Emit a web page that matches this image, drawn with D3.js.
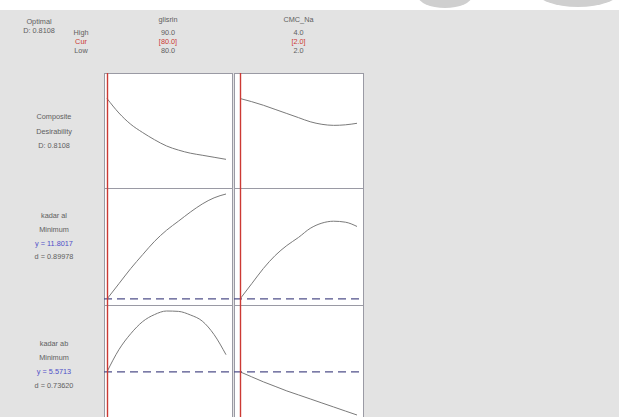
<!DOCTYPE html>
<html><head><meta charset="utf-8">
<script src="https://cdn.jsdelivr.net/npm/d3@7"></script>
<style>html,body{margin:0;padding:0;background:#fff;}svg{display:block;}</style>
</head><body>
<svg id="chart" width="619" height="417"></svg>
<script>
// ---------- data ----------
const factors = ["glisrin", "CMC_Na"];
const factorHighLabels = ["90.0", "4.0"];
const factorCurLabels = ["[80.0]", "[2.0]"];
const factorLowLabels = ["80.0", "2.0"];
const factorLow = [80, 2];
const factorHigh = [90, 4];
const factorCur = [80, 2];
const glisrinX = [80, 81, 82, 83, 84, 85, 86, 87, 88, 89, 90];
const cmcX = [2.0, 2.2, 2.4, 2.6, 2.8, 3.0, 3.2, 3.4, 3.6, 3.8, 4.0];

const rowLabels = [
  ["Composite", "Desirability", "D: 0.8108"],
  ["kadar al", "Minimum", "y = 11.8017", "d = 0.89978"],
  ["kadar ab", "Minimum", "y = 5.5713", "d = 0.73620"]
];
const rowCurrentY = [null, 11.8017, 5.5713];

const desirGlisrin = [0.8108, 0.67, 0.56, 0.48, 0.41, 0.35, 0.31, 0.28, 0.26, 0.24, 0.22];
const desirCMC = [0.8108, 0.78, 0.745, 0.705, 0.665, 0.625, 0.585, 0.56, 0.55, 0.555, 0.57];
const alGlisrin = [11.80, 12.12, 12.44, 12.73, 13.01, 13.24, 13.43, 13.62, 13.79, 13.92, 14.00];
const alCMC = [11.80, 12.12, 12.44, 12.71, 12.92, 13.09, 13.28, 13.39, 13.43, 13.41, 13.32];
const abGlisrin = [5.571, 5.915, 6.164, 6.352, 6.461, 6.516, 6.510, 6.455, 6.360, 6.149, 5.837];
const abCMC = [5.571, 5.493, 5.415, 5.345, 5.274, 5.212, 5.150, 5.087, 5.025, 4.962, 4.900];

// ---------- layout ----------
const svg = d3.select("#chart");
const W = 619, H = 417;
const FONT = "'Liberation Sans', Arial, sans-serif";
const textCol = "#606060", redCol = "#cc3a34", blueCol = "#5050c8";

svg.append("rect").attr("width", W).attr("height", H).attr("fill", "#ffffff");
svg.append("rect").attr("x", 0).attr("y", 10).attr("width", W).attr("height", H - 10).attr("fill", "#e3e3e3");
// faint shapes in top band
svg.append("ellipse").attr("cx", 445).attr("cy", -4).attr("rx", 27).attr("ry", 12).attr("fill", "#cfcfcf");
svg.append("ellipse").attr("cx", 578).attr("cy", -9).attr("rx", 42).attr("ry", 16).attr("fill", "#cfcfcf");

const colX = [[104, 232], [234, 363]];
const colPad = [[3, 6], [6, 6]];
const rowY = [[73, 188], [188, 305], [305, 421]];
const pad = 6;

const xs = factors.map((f, i) => d3.scaleLinear()
  .domain([factorLow[i], factorHigh[i]])
  .range([colX[i][0] + colPad[i][0], colX[i][1] - colPad[i][1]]));

const curves = [
  [glisrinX.map((x, k) => [x, desirGlisrin[k]]), cmcX.map((x, k) => [x, desirCMC[k]])],
  [glisrinX.map((x, k) => [x, alGlisrin[k]]), cmcX.map((x, k) => [x, alCMC[k]])],
  [glisrinX.map((x, k) => [x, abGlisrin[k]]), cmcX.map((x, k) => [x, abCMC[k]])]
];

const ys = curves.map((rc, r) => {
  const dom = r === 0 ? [0, 1] : d3.extent(rc.flat(), d => d[1]);
  return d3.scaleLinear().domain(dom).range([rowY[r][1] - pad, rowY[r][0] + pad]);
});

// panels
const g = svg.append("g");
rowY.forEach((ry, r) => {
  colX.forEach((cx, c) => {
    g.append("rect").attr("x", cx[0] + 0.5).attr("y", ry[0] + 0.5)
      .attr("width", cx[1] - cx[0]).attr("height", ry[1] - ry[0])
      .attr("fill", "#ffffff").attr("stroke", "#9a9aa4").attr("stroke-width", 1);
  });
});

// curves
rowY.forEach((ry, r) => {
  colX.forEach((cx, c) => {
    const line = d3.line().x(d => xs[c](d[0])).y(d => ys[r](d[1])).curve(d3.curveMonotoneX);
    g.append("path").attr("d", line(curves[r][c])).attr("fill", "none")
      .attr("stroke", "#7a7a7a").attr("stroke-width", 1);
  });
  if (rowCurrentY[r] !== null) {
    const yy = ys[r](rowCurrentY[r]);
    g.append("line").attr("x1", colX[0][0]).attr("x2", colX[1][1]).attr("y1", yy).attr("y2", yy)
      .attr("stroke", "#50508a").attr("stroke-width", 1.2).attr("stroke-dasharray", "8,5");
  }
});

// red current lines
factors.forEach((f, c) => {
  const xx = Math.round(xs[c](factorCur[c])) + 0.5;
  g.append("line").attr("x1", xx).attr("x2", xx).attr("y1", rowY[0][0]).attr("y2", H)
    .attr("stroke", redCol).attr("stroke-width", 1.4);
});

// header texts
function txt(x, y, s, col, anchor) {
  svg.append("text").attr("x", x).attr("y", y).text(s)
    .attr("font-family", FONT).attr("font-size", 7.3).attr("fill", col || textCol)
    .attr("text-anchor", anchor || "middle");
}
txt(39, 24, "Optimal");
txt(39, 33, "D: 0.8108");
txt(81, 35, "High");
txt(81, 44, "Cur", redCol);
txt(81, 53, "Low");
factors.forEach((f, c) => {
  const cx = (colX[c][0] + colX[c][1]) / 2;
  txt(cx, 22, f);
  txt(cx, 35, factorHighLabels[c]);
  txt(cx, 44, factorCurLabels[c], redCol);
  txt(cx, 53, factorLowLabels[c]);
});

// row labels
const rowLabelY = [[119, 134, 148], [218, 232, 246, 259], [346, 360, 374, 388]];
rowLabels.forEach((labs, r) => {
  labs.forEach((s, k) => {
    txt(54, rowLabelY[r][k], s, s.startsWith("y =") ? blueCol : textCol);
  });
});
</script>
</body></html>
